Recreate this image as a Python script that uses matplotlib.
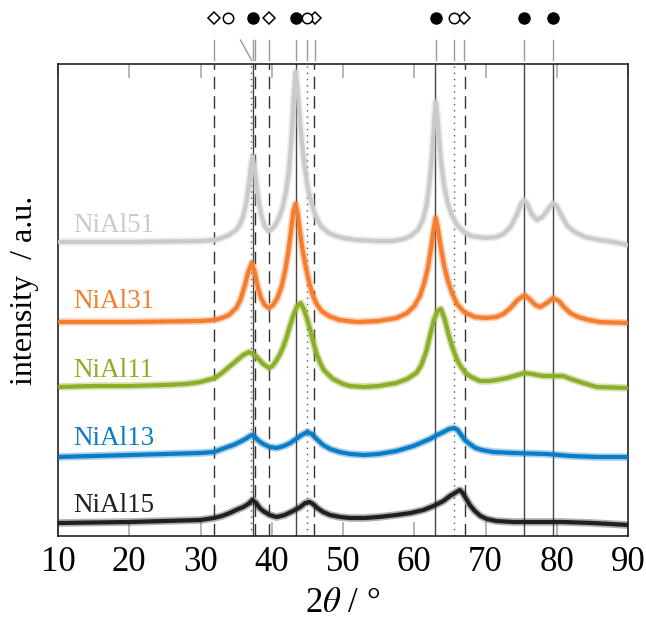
import numpy as np
import matplotlib
matplotlib.use("Agg")
import matplotlib.pyplot as plt
import matplotlib.transforms as mtransforms

plt.rcParams['font.family'] = ['Liberation Serif', 'DejaVu Serif']
plt.rcParams['mathtext.fontset'] = 'stix'

# diffractogramme (2theta in grad, intensitaet in a.u., schon versetzt)
tt_51 = [10, 20, 30, 32, 33, 34, 35, 35.5, 36, 36.4, 36.8, 37.1, 37.3, 37.55, 37.8, 38.1, 38.5, 39,
         39.5, 40, 40.5, 41, 41.5, 42, 42.4, 42.8, 43.1, 43.35, 43.6, 43.9, 44.2, 44.6, 45, 45.5, 46,
         46.5, 47, 48, 49, 50, 52, 55, 57, 58.5, 59.5, 60.5, 61.2, 61.7, 62.1, 62.5, 62.8, 63, 63.25,
         63.5, 63.8, 64.2, 64.7, 65.2, 66, 67, 68, 70, 71.5, 72.5, 73.5, 74.3, 75, 75.4, 75.8, 76.5,
         77.2, 78, 78.8, 79.5, 80, 80.7, 81.5, 82.5, 84, 86, 88, 90]
i_51 = [294, 294, 295, 296, 298, 301, 306, 311, 320, 332, 352, 370, 379, 370, 355, 338, 322, 310,
        305, 307, 311, 318, 328, 344, 365, 400, 440, 464, 448, 420, 395, 370, 350, 335, 323,
        315, 309, 303, 300, 298, 296, 295, 295, 297, 300, 306, 316, 330, 350, 380, 415, 434, 420,
        396, 372, 350, 333, 322, 311, 304, 300, 298, 299, 302, 309, 320, 332, 336, 333, 322,
        316, 319, 327, 333, 330, 320, 310, 304, 299, 296, 294, 291]

tt_31 = [10, 20, 30, 32, 33, 34, 35, 35.6, 36.2, 36.7, 37.2, 37.6, 38, 38.5, 39, 39.6, 40.2, 40.8,
         41.4, 41.9, 42.3, 42.7, 43.05, 43.35, 43.65, 44, 44.4, 44.8, 45.3, 45.8, 46.3, 47, 48, 49.5,
         52, 55, 57.5, 59, 60, 60.8, 61.4, 61.9, 62.4, 62.75, 63, 63.3, 63.7, 64.2, 64.7, 65.3, 66, 67,
         68.5, 70, 71.5, 72.5, 73.5, 74.5, 75.5, 76.3, 77, 77.7, 78.6, 79.5, 80.3, 81, 81.9, 83, 84.5,
         86, 90]
i_31 = [214, 214, 215, 216, 218, 221, 228, 236, 250, 264, 273, 264, 250, 238, 231, 228, 231, 238,
        250, 266, 283, 305, 325, 332, 322, 302, 283, 268, 252, 240, 232, 225, 220, 216,
        214, 215, 218, 223, 230, 240, 253, 268, 290, 308, 318, 308, 290, 270, 256, 243, 232, 224,
        219, 218, 219, 222, 228, 236, 241, 236, 231, 229, 233, 238, 235, 229, 223, 219, 216,
        214, 213]

tt_11 = [10, 15, 20, 25, 28, 30, 31, 32, 33, 34, 35, 36, 36.8, 37.4, 37.9, 38.8, 39.6, 40.1, 40.6,
         41.1, 41.6, 42.1, 42.5, 43, 43.5, 44.05, 44.5, 45, 45.4, 45.9, 46.3, 46.8, 47.3, 48, 48.6,
         50, 51, 53, 55, 57.5, 59, 60.3, 61, 61.7, 62.3, 62.8, 63.3, 63.75, 64.3, 64.8, 65.3, 65.9,
         66.4, 67.2, 68, 69.2, 70.5, 71.6, 73, 74.5, 75.5, 76.5, 78.1, 79.5, 80.9, 82, 83.7, 85.6, 90]
i_11 = [149, 150, 150, 151, 152, 154, 156, 158, 163, 169, 175, 181, 184, 182, 179, 172, 168, 170, 175,
        181, 189, 199, 209, 220, 229, 233, 227, 216, 206, 192, 182, 173, 166, 161, 157,
        152, 150, 149, 150, 153, 157, 163, 171, 185, 203, 217, 225, 227, 216, 202, 190, 178,
        171, 163, 159, 155, 155, 156, 158, 161, 163, 162, 160, 160, 160, 157, 153, 149, 148]

tt_13 = [10, 20, 25, 30, 31.9, 33, 34.6, 35.5, 36.3, 37.2, 37.6, 38.2, 38.8, 39.7, 40.7, 41.7, 42.6,
         43.4, 44.2, 45, 45.6, 46.3, 47.2, 48.2, 49.5, 51, 53, 55, 57.5, 59.9, 61.2, 62.2, 63.2, 64.1,
         64.9, 65.6, 66.1, 66.6, 67.1, 67.8, 68.6, 69.5, 71, 73.9, 78.6, 82, 85.6, 90]
i_13 = [79, 81, 82, 83, 84, 87, 91, 94, 97, 101, 99, 95, 92, 89, 88, 90, 93,
        97, 101, 104, 102, 97, 91, 87, 84, 82, 81, 82, 85, 90, 94, 97, 101, 104,
        107, 108, 106, 101, 96, 92, 88, 86, 84, 83, 82, 80, 79, 79]

tt_15 = [10, 20, 25, 30, 31.9, 33, 34.1, 35, 36, 36.7, 37.3, 37.8, 38.3, 38.8, 39.7, 40.7, 41.8, 43,
         44, 44.7, 45.3, 45.8, 46.4, 47.2, 48.2, 49.6, 51, 53, 55, 57.5, 59.5, 61.3, 62.7, 64.1, 65,
         65.7, 66.4, 66.8, 67.3, 67.8, 68.5, 69.3, 70.2, 71.5, 73.9, 80.9, 85, 90]
i_15 = [13, 14, 15, 16, 18, 20, 23, 26, 29, 32, 36, 33, 28, 25, 21, 19, 21, 25,
        29, 33, 34, 32, 28, 24, 21, 19, 18, 18, 19, 21, 23, 26, 30, 35, 40,
        43, 46, 43, 37, 31, 25, 20, 17, 15, 14, 14, 13, 11]

names = ['NiAl51', 'NiAl31', 'NiAl11', 'NiAl13', 'NiAl15']
farben = ['#c9cacc', '#f47d30', '#8dae28', '#0a7dc6', '#231f20']
label_y = [304, 228, 159, 91, 24]

# referenzlagen
ref_nio = [37.3, 43.35, 62.95, 75.45, 79.5]
ref_al2o3 = [37.1, 45.0, 65.6]
ref_spinell = [31.9, 37.65, 39.6, 45.95, 67.1]

# symbole oben
sym_raute = [31.9, 39.6, 46.1, 67.0]
sym_kreis = [33.9, 45.0, 65.6]
sym_punkt = [37.3, 43.4, 63.0, 75.4, 79.5]
striche = [31.9, 37.3, 37.6, 39.6, 43.4, 45.0, 46.0, 63.0, 65.6, 67.0, 75.4, 79.5]

fig = plt.figure(figsize=(6.46, 6.30), dpi=100)
ax = fig.add_axes([58/646, 1-536/630, 570/646, 472/630])

for x in ref_spinell:
    ax.axvline(x, color='#333333', lw=1.0, ls=(0, (9, 5)), zorder=1)
for x in ref_al2o3:
    ax.axvline(x, color='#555555', lw=1.0, ls=(0, (1, 3.5)), zorder=1)
for x in ref_nio:
    ax.axvline(x, color='#444444', lw=1.0, zorder=1)

daten = [(tt_51, i_51), (tt_31, i_31), (tt_11, i_11), (tt_13, i_13), (tt_15, i_15)]
for (tt, ii), c, n, ly in zip(daten, farben, names, label_y):
    ax.plot(tt, ii, color=c, lw=5.5, alpha=0.35, solid_joinstyle='round', zorder=2)
    ax.plot(tt, ii, color=c, lw=3.0, solid_joinstyle='round', zorder=3)
    ax.text(12.1, ly, n, color=c, fontsize=19.5, ha='left', va='baseline')

trans = mtransforms.blended_transform_factory(ax.transData, ax.transAxes)
for x in striche:
    ax.plot([x, x], [1.0085, 1.0508], color='#9a9a9a', lw=1.0, transform=trans, clip_on=False)
ax.plot([35.6, 37.15], [1.0508, 1.0085], color='#9a9a9a', lw=1.0, transform=trans, clip_on=False)

ax.plot(sym_raute, [1.0975]*len(sym_raute), ls='none', marker='D', ms=6.5, mfc='white',
        mec='black', mew=1.1, transform=trans, clip_on=False)
ax.plot(sym_kreis, [1.0975]*len(sym_kreis), ls='none', marker='o', ms=7.5, mfc='white',
        mec='black', mew=1.1, transform=trans, clip_on=False)
ax.plot(sym_punkt, [1.0975]*len(sym_punkt), ls='none', marker='o', ms=8, mfc='black',
        mec='black', transform=trans, clip_on=False)

ax.set_xlim(10, 90)
ax.set_ylim(0, 472)
ax.set_xticks(np.arange(10, 91, 10))
ax.set_yticks([])
ax.tick_params(axis='x', direction='in', top=True, length=10, width=1.2, color='#aaaaaa',
               labelsize=25, pad=7)
for s in ax.spines.values():
    s.set_linewidth(1.2)
    s.set_color('#222222')

ax.set_xlabel(r'2$\theta$ / °', fontsize=25, labelpad=6)
fig.text(25/646, 1-290/630, 'intensity  / a.u.', rotation=90, fontsize=23,
         ha='center', va='center')

fig.savefig('out.png', dpi=100)
